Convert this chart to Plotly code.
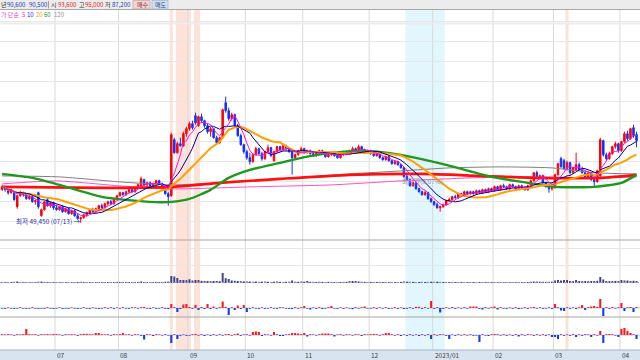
import plotly.graph_objects as go
import pandas as pd

W, H = 640, 360

# ---------------- data (prices in thousand won) ----------------
opens = [
 66.0, 67.5, 66.0, 64.5, 65.0, 57.5, 63.0, 64.5, 63.5, 61.5, 62.5, 60.0, 64.5, 53.0, 56.0, 61.0, 58.0, 59.5,
 57.0, 56.0, 57.5, 55.0, 56.5, 54.0, 55.5, 53.0, 51.5, 52.0, 53.5, 54.5, 56.0, 55.0, 56.5, 58.0, 57.0, 59.0, 60.0, 59.0, 61.5,
 63.0, 64.5, 63.5, 65.0, 66.0, 65.0, 67.0, 67.0, 71.0, 68.5, 69.5, 67.5, 69.0, 70.5, 69.0, 66.5, 64.0, 63.0, 91.0, 84.5, 89.0, 88.0, 94.0,
 96.5, 99.0, 103.0, 98.0, 102.5, 100.5, 98.0, 95.0, 96.5, 92.0, 89.5, 92.0, 109.5, 105.5, 101.5, 103.5, 98.0, 93.0, 88.5,
 85.0, 82.0, 80.0, 83.5, 86.5, 84.0, 81.5, 85.0, 87.0, 80.5, 85.0, 87.5, 86.0, 88.0, 86.5, 85.0, 82.0, 83.5, 85.5,
 86.5, 84.5, 85.5, 84.0, 83.0, 84.5, 85.5, 84.0, 82.5, 83.5, 84.5, 83.0, 82.0, 83.5, 85.0, 84.0, 85.5, 86.5, 85.0, 87.5, 86.0, 84.5,
 85.5, 84.0, 83.0, 84.5, 82.0, 81.0, 82.5, 80.5, 79.0, 80.0, 78.5, 77.0, 72.5, 71.0, 68.0, 69.5, 66.5, 65.0, 63.5, 64.5, 61.5,
 60.0, 58.5, 57.0, 57.5, 58.5, 60.5, 61.0, 62.5, 62.0, 64.0, 63.0, 65.0, 64.0, 65.0, 64.0, 65.5, 64.5, 66.0, 65.0, 66.5,
 65.5, 67.5, 66.0, 68.0, 67.5, 66.5, 68.5, 67.5, 66.5, 68.0, 67.0, 66.0, 68.0, 70.5, 74.5, 72.0, 73.0, 69.5, 67.5, 66.5,
 67.0, 73.5, 81.5, 80.5, 76.5, 79.5, 74.5, 76.0, 78.5, 76.0, 74.5, 72.0, 74.5, 71.0, 70.0, 73.0, 90.5, 83.5, 81.5, 84.0, 87.5, 89.0,
 85.5, 90.0, 94.0, 91.5, 97.0, 93.6,
]
highs = [
 68.5, 68.0, 66.5, 66.5, 65.5, 63.5, 65.5, 65.0, 64.0, 63.5, 63.5, 61.0, 65.0, 56.5, 60.5, 62.0, 60.0, 60.0,
 58.5, 58.0, 58.0, 57.0, 57.0, 56.0, 56.0, 54.0, 52.5, 54.0, 55.0, 56.5, 57.0, 57.0, 58.5, 59.0, 59.5, 60.5, 61.0, 62.0, 63.5,
 65.0, 65.0, 65.5, 66.5, 66.5, 67.5, 69.0, 72.5, 71.5, 70.0, 70.0, 69.5, 71.0, 71.0, 69.5, 67.0, 65.0, 94.5, 92.0, 90.0, 92.0, 95.0, 97.5,
 100.0, 100.5, 104.5, 103.0, 104.0, 101.0, 99.0, 97.5, 97.0, 93.0, 92.5, 106.5, 112.5, 107.0, 104.5, 104.0, 99.0, 94.0, 89.0,
 86.0, 84.5, 84.0, 87.5, 87.0, 85.0, 85.5, 88.5, 87.5, 85.5, 88.0, 88.0, 89.0, 88.5, 87.0, 85.5, 84.0, 86.0, 87.5,
 87.0, 86.0, 86.0, 84.5, 85.0, 86.0, 86.0, 84.5, 84.0, 85.0, 85.0, 83.5, 84.0, 85.5, 85.5, 86.0, 87.5, 87.0, 88.5, 88.0, 86.5, 86.0,
 86.0, 84.5, 85.0, 85.0, 82.5, 83.0, 83.0, 81.0, 80.5, 80.5, 79.0, 77.5, 74.0, 71.5, 70.0, 70.0, 67.0, 65.5, 65.5, 65.0, 62.0,
 60.5, 59.5, 58.0, 59.0, 61.0, 62.0, 63.0, 63.5, 64.5, 64.5, 65.5, 65.5, 65.5, 65.5, 66.0, 66.0, 66.5, 66.5, 67.0, 67.0,
 68.0, 68.0, 68.5, 69.0, 68.0, 69.0, 69.0, 68.0, 68.5, 68.5, 67.5, 68.5, 71.0, 74.5, 75.5, 73.5, 73.5, 70.0, 68.5, 67.5,
 74.0, 79.5, 82.5, 81.5, 80.5, 80.0, 77.5, 84.5, 79.5, 77.5, 75.0, 75.0, 75.0, 72.0, 76.0, 92.0, 91.0, 84.5, 85.0, 88.0, 90.0, 89.5,
 90.5, 95.0, 95.5, 97.0, 98.5, 95.0,
]
lows = [
 65.5, 65.0, 63.5, 64.0, 60.5, 56.5, 62.5, 62.5, 61.0, 61.0, 59.5, 58.5, 56.5, 52.5, 55.5, 57.5, 57.0, 56.0,
 55.5, 55.5, 54.5, 54.5, 53.5, 53.5, 52.5, 51.0, 49.45, 51.5, 52.5, 54.0, 54.5, 54.5, 56.0, 56.5, 56.5, 58.0, 58.5, 58.5, 61.0,
 62.5, 63.0, 63.0, 64.0, 64.5, 64.5, 66.5, 66.5, 68.0, 67.5, 67.0, 67.0, 68.5, 68.5, 66.0, 63.5, 58.0, 62.5, 84.0, 84.0, 87.5, 87.5, 92.5,
 95.5, 96.0, 98.5, 97.5, 99.5, 97.0, 94.0, 92.5, 91.5, 88.5, 89.0, 91.5, 104.5, 100.5, 100.5, 97.5, 92.5, 88.0, 84.0,
 81.0, 78.5, 79.5, 83.0, 83.5, 80.5, 81.0, 84.5, 82.5, 80.0, 84.5, 85.0, 85.5, 85.5, 84.5, 73.5, 81.0, 83.0, 85.0,
 84.0, 84.0, 83.5, 82.5, 82.5, 84.0, 83.5, 82.0, 82.0, 83.0, 82.5, 81.5, 81.5, 83.0, 83.5, 83.5, 85.0, 84.5, 84.5, 85.5, 84.0, 84.0,
 83.5, 82.5, 82.5, 81.5, 80.5, 80.5, 80.0, 78.5, 78.5, 78.0, 76.5, 72.0, 70.5, 67.5, 67.5, 66.0, 64.5, 63.0, 63.0, 61.0, 59.5,
 58.0, 56.5, 55.0, 57.0, 58.0, 60.0, 60.5, 61.5, 61.5, 62.5, 62.5, 63.5, 63.5, 63.5, 63.5, 64.0, 64.0, 64.5, 64.5, 65.0,
 65.0, 65.5, 65.5, 67.0, 66.0, 66.0, 67.0, 66.0, 66.0, 66.5, 65.5, 65.5, 67.5, 70.0, 71.5, 71.0, 69.0, 67.0, 64.5, 65.5,
 66.5, 73.0, 77.0, 76.0, 75.5, 73.5, 74.0, 75.5, 75.5, 74.0, 71.5, 71.5, 70.5, 67.5, 69.5, 72.5, 82.5, 80.5, 81.0, 83.5, 86.5, 84.5,
 85.0, 89.5, 90.5, 91.0, 92.0, 87.2,
]
closes = [
 67.5, 66.0, 64.5, 65.5, 61.0, 63.0, 64.5, 63.5, 61.5, 62.5, 60.0, 60.5, 57.5, 56.0, 60.0, 58.0, 59.5, 57.0,
 56.0, 57.5, 55.0, 56.5, 54.0, 55.5, 53.0, 51.5, 52.0, 53.5, 54.5, 56.0, 55.0, 56.5, 58.0, 57.0, 59.0, 60.0, 59.0, 61.5, 63.0,
 64.5, 63.5, 65.0, 66.0, 65.0, 67.0, 68.5, 71.5, 68.5, 69.5, 67.5, 69.0, 70.5, 69.0, 66.5, 64.0, 62.5, 93.5, 84.5, 89.0, 88.0, 94.0, 96.5,
 99.0, 97.0, 99.5, 102.5, 100.5, 98.0, 95.0, 96.5, 92.0, 89.5, 92.0, 106.0, 105.5, 101.5, 103.5, 98.0, 93.0, 88.5, 85.0,
 82.0, 80.0, 83.5, 86.5, 84.0, 81.5, 85.0, 87.0, 83.0, 85.0, 87.5, 86.0, 88.0, 86.5, 85.0, 82.0, 83.5, 85.5, 86.5,
 84.5, 85.5, 84.0, 83.0, 84.5, 85.5, 84.0, 82.5, 83.5, 84.5, 83.0, 82.0, 83.5, 85.0, 84.0, 85.5, 86.5, 85.0, 87.5, 86.0, 84.5, 85.5,
 84.0, 83.0, 84.5, 82.0, 81.0, 82.5, 80.5, 79.0, 80.0, 78.5, 77.0, 72.5, 71.0, 68.0, 69.5, 66.5, 65.0, 63.5, 64.5, 61.5, 60.0,
 58.5, 57.0, 57.5, 58.5, 60.5, 61.0, 62.5, 62.0, 64.0, 63.0, 65.0, 64.0, 65.0, 64.0, 65.5, 64.5, 66.0, 65.0, 66.5, 65.5,
 67.5, 66.0, 68.0, 67.5, 66.5, 68.5, 67.5, 66.5, 68.0, 67.0, 66.0, 68.0, 70.5, 74.5, 72.0, 73.0, 69.5, 67.5, 66.5, 67.0,
 73.5, 79.0, 77.5, 76.5, 79.5, 74.5, 77.0, 78.5, 76.0, 74.5, 72.0, 74.5, 71.0, 70.0, 75.5, 91.0, 83.5, 81.5, 84.0, 87.5, 89.0, 85.5,
 90.0, 94.0, 91.5, 96.5, 93.0, 90.6,
]

# volume (thousand shares)
volume = [
 90, 80, 100, 80, 120, 150, 90, 80, 100, 70, 90, 80, 130, 140, 110, 90, 80, 90,
 80, 70, 90, 80, 70, 80, 90, 100, 120, 90, 80, 90, 70, 80, 90, 80, 90, 100, 80, 90, 110,
 100, 80, 90, 100, 80, 90, 110, 160, 100, 90, 80, 90, 110, 90, 100, 130, 150, 700, 650, 500, 300, 300, 280,
 380, 250, 300, 300, 220, 200, 200, 180, 200, 200, 180, 1000, 480, 400, 250, 220, 200, 180, 160,
 150, 140, 130, 150, 120, 130, 140, 120, 110, 130, 150, 120, 110, 120, 130, 250, 130, 120, 140,
 130, 200, 120, 110, 100, 120, 110, 100, 120, 110, 100, 90, 100, 110, 120, 180, 200, 200, 150, 120, 110, 100,
 100, 90, 100, 110, 90, 100, 90, 100, 90, 100, 110, 150, 130, 120, 110, 100, 110, 120, 100, 110, 130,
 120, 130, 110, 100, 110, 90, 100, 90, 100, 90, 100, 90, 100, 90, 80, 90, 100, 90, 80, 90,
 90, 80, 90, 80, 90, 80, 90, 80, 90, 80, 90, 100, 120, 150, 140, 130, 120, 110, 120, 130,
 250, 300, 250, 300, 300, 200, 180, 300, 200, 180, 200, 180, 200, 190, 220, 600, 350, 200, 180, 200, 210, 190,
 300, 250, 250, 200, 220, 200,
]

# net buying indicators (thousand shares)
net_a = [
 -6, -8, 6, -6, -8, -6, 8, -6, -8, -6, 8, -6, -8, -6, -8, 8, -6, -8,
 -6, 6, -8, -6, -8, 6, -6, -8, -6, 8, -6, -8, 6, -6, -8, -6, 8, -6, 8, -8, 6,
 -6, 8, -6, -8, 8, 6, -6, 8, 10, -6, -8, 6, -8, -6, 8, -8, -10, 40, 8, -40, -10, 35, 40,
 10, -8, 30, -20, 10, -10, 40, -10, 15, -8, 8, 65, 10, -70, 8, -20, 25, -10, 30,
 -40, -8, 8, -6, -8, 6, -8, -6, 8, -6, -8, 8, 6, -6, -8, -10, 8, -6, 8,
 20, -6, -15, 6, -8, 8, -10, -6, 8, 20, -6, -8, 6, -8, 6, -6, -12, 8, -6, 8, 15, -6,
 -6, 8, -8, 6, -6, 8, -8, -6, 8, -8, 6, -10, -8, 8, -6, 12, 12, -8, 8, -6, 70,
 -8, 8, -45, -8, 8, -6, 10, -8, 6, -6, 8, -6, 15, 15, 15, -8, -15, 8, -6, 8,
 15, -15, 8, -6, -8, 6, -8, 8, -10, -6, 8, -8, 6, 10, -6, 8, -8, -6, 8, -8,
 40, 8, -25, -30, 8, -8, 6, -10, 8, 30, -20, 8, 15, 20, 10, 90, -80, 8, -8, 10, -6, 8,
 50, -30, 8, 10, -40, 10,
]
net_b = [
 8, 6, 8, 6, -6, 8, 6, 8, 60, 8, 6, 8, -6, 8, 6, 8, 6, 10,
 8, 6, -6, 8, 6, 8, 6, -8, 8, 12, 12, 8, 6, 20, 20, 8, 6, 8, -6, 8, 6,
 8, 20, 6, 8, -6, 8, 6, -8, -45, 8, 6, -10, 8, 6, -6, 8, -6, -80, 8, -40, -8, 6, -8,
 -6, 8, 10, -6, 8, -10, 6, -8, 8, -6, 8, -6, 8, 10, -6, 8, 15, -8, 6,
 8, -6, 30, 35, 30, -10, 8, 6, -6, 30, 8, -10, -10, 6, 8, 20, 20, 15, 8,
 20, -15, 8, 6, -6, 8, 15, 15, 15, 8, -15, 6, 8, -6, 8, 6, -6, 8, 6, -10, 8, 6,
 8, 10, 8, -6, 8, 20, 20, 8, -6, 8, -10, 6, -8, 8, -6, 6, -10, 8, -6, 8, -40,
 8, -6, 8, 6, -8, -40, 6, -8, 8, -6, 8, -6, 8, -8, -6, -70, 8, -6, -10, 8,
 10, 8, -6, 8, -8, 6, -8, 8, -15, 8, -6, 8, 6, -8, 8, -6, 8, -8, 6, -20,
 -20, -40, 8, -8, 6, -8, 8, -20, 6, -8, 8, 6, -20, 8, -6, 40, -80, 8, 10, 8, -6, -20,
 60, 70, 40, 20, 8, -40,
]

# long moving averages (index, thousand won)
ma60_idx = [0, 10, 19, 33, 49, 56, 62, 69, 75, 82, 92, 99, 109, 119, 125, 132, 147, 162, 172, 183, 196, 205, 210]
ma60_val = [73.9, 71.9, 68.4, 62.4, 59.9, 59.9, 61.4, 65.9, 71.9, 75.9, 79.4, 81.9, 84.4, 85.4, 84.9, 83.4, 78.4, 72.4, 69.9, 67.4, 67.4, 69.4, 73.4]
ma120_idx = [0, 19, 39, 56, 72, 92, 115, 132, 148, 165, 182, 197, 210]
ma120_val = [72.9, 72.4, 69.9, 68.4, 69.4, 71.4, 73.9, 75.4, 76.9, 77.4, 76.9, 74.4, 73.9]
maR_idx = [0, 33, 56, 72, 92, 115, 139, 158, 178, 198, 210]
maR_val = [67.4, 66.9, 67.4, 69.4, 71.4, 73.4, 73.9, 72.9, 71.9, 71.9, 73.4]
maP_idx = [0, 18, 39, 56, 82, 109, 132, 155, 172, 198, 210]
maP_val = [68.9, 70.4, 67.9, 66.4, 67.4, 68.4, 70.4, 71.9, 72.4, 71.9, 72.4]

month_start = [18, 39, 62, 81, 100, 122, 143, 163, 183, 205]
month_text = ["07", "08", "09", "10", "11", "12", "2023/01", "02", "03", "04"]

red_bands = [(56, 56), (58, 62), (64, 65), (187, 187)]
blue_bands = [(134, 146)]

low_idx, low_val, low_text = 26, 49.45, "최저 49,450 (07/13) →"

# ---------------- figure ----------------
def py(p):
    return 1 - p / H

N = len(closes)
x = list(range(N))
s = pd.Series(closes)
ma5 = s.rolling(5, min_periods=1).mean()
ma10 = s.rolling(10, min_periods=1).mean()
ma20 = s.rolling(20, min_periods=1).mean()

fig = go.Figure()
sk = dict(mode="lines", hoverinfo="skip", showlegend=False, xaxis="x", yaxis="y")
fig.add_trace(go.Scatter(x=ma120_idx, y=ma120_val, line=dict(color="#7f7f7f", width=1, shape="spline", smoothing=0.6), **sk))
fig.add_trace(go.Scatter(x=maP_idx, y=maP_val, line=dict(color="#ff4fc8", width=1, shape="spline", smoothing=0.6), **sk))
fig.add_trace(go.Scatter(x=maR_idx, y=maR_val, line=dict(color="#ff1010", width=2.6, shape="spline", smoothing=0.6), **sk))
fig.add_trace(go.Scatter(x=ma60_idx, y=ma60_val, line=dict(color="#1c9a1c", width=2.4, shape="spline", smoothing=0.6), **sk))
fig.add_trace(go.Candlestick(
    x=x, open=opens, high=highs, low=lows, close=closes,
    increasing=dict(line=dict(color="#ff0000", width=1), fillcolor="#ff0000"),
    decreasing=dict(line=dict(color="#1030ff", width=1), fillcolor="#1030ff"),
    whiskerwidth=0, hoverinfo="skip", showlegend=False, xaxis="x", yaxis="y"))
fig.add_trace(go.Scatter(x=x, y=ma20, line=dict(color="#ffa000", width=2), **sk))
fig.add_trace(go.Scatter(x=x, y=ma10, line=dict(color="#000090", width=1), **sk))
fig.add_trace(go.Scatter(x=x, y=ma5, line=dict(color="#ff10d0", width=1), **sk))

fig.add_trace(go.Bar(x=x, y=volume, marker=dict(color="#40408c", line=dict(width=0)), width=0.65,
                     hoverinfo="skip", showlegend=False, xaxis="x", yaxis="y2"))
fig.add_trace(go.Bar(x=x, y=net_a, marker=dict(color=["#ff1a1a" if v > 0 else "#1040e0" for v in net_a], line=dict(width=0)),
                     width=0.7, hoverinfo="skip", showlegend=False, xaxis="x", yaxis="y3"))
fig.add_trace(go.Bar(x=x, y=net_b, marker=dict(color=["#ff1a1a" if v > 0 else "#1040e0" for v in net_b], line=dict(width=0)),
                     width=0.7, hoverinfo="skip", showlegend=False, xaxis="x", yaxis="y4"))

shapes = []
for a, b in red_bands:
    shapes.append(dict(type="rect", xref="x", yref="paper", x0=a - 0.5, x1=b + 0.5, y0=py(350), y1=py(10),
                       fillcolor="#fde2d8", line=dict(width=0), layer="below"))
for a, b in blue_bands:
    shapes.append(dict(type="rect", xref="x", yref="paper", x0=a - 0.5, x1=b + 0.5, y0=py(350), y1=py(10),
                       fillcolor="#e2f6fd", line=dict(width=0), layer="below"))
for m in month_start:
    shapes.append(dict(type="line", xref="x", yref="paper", x0=m - 0.5, x1=m - 0.5, y0=py(350), y1=py(10),
                       line=dict(color="#d9d9d9", width=1), layer="below"))
shapes.append(dict(type="line", xref="paper", yref="paper", x0=0, x1=1, y0=py(23.5), y1=py(23.5), line=dict(color="#ececec", width=2), layer="below"))
shapes.append(dict(type="line", xref="paper", yref="paper", x0=0, x1=1, y0=py(240), y1=py(240), line=dict(color="#a6a6a6", width=1.2)))
shapes.append(dict(type="line", xref="paper", yref="paper", x0=0, x1=1, y0=py(317), y1=py(317), line=dict(color="#a6a6a6", width=1.2)))
shapes.append(dict(type="line", xref="paper", yref="paper", x0=0, x1=1, y0=py(282.6), y1=py(282.6), line=dict(color="#9a9ab8", width=1, dash="dot")))
shapes.append(dict(type="line", xref="paper", yref="paper", x0=0, x1=1, y0=py(308), y1=py(308), line=dict(color="#b8c8f0", width=1), layer="below"))
shapes.append(dict(type="line", xref="paper", yref="paper", x0=0, x1=1, y0=py(335), y1=py(335), line=dict(color="#b8c8f0", width=1), layer="below"))
shapes.append(dict(type="rect", xref="paper", yref="paper", x0=0, x1=1, y0=0, y1=py(350),
                   fillcolor="#d9e4f1", line=dict(width=0)))
shapes.append(dict(type="line", xref="paper", yref="paper", x0=0, x1=1, y0=py(350), y1=py(350), line=dict(color="#a9b4c4", width=1)))
shapes.append(dict(type="rect", xref="paper", yref="paper", x0=0, x1=1, y0=py(9.5), y1=1,
                   fillcolor="#ececec", line=dict(width=0)))
shapes.append(dict(type="line", xref="paper", yref="paper", x0=0, x1=1, y0=py(9.5), y1=py(9.5), line=dict(color="#a8a8a8", width=1)))
shapes.append(dict(type="line", xref="paper", yref="paper", x0=48.5 / W, x1=48.5 / W, y0=py(8.5), y1=py(1), line=dict(color="#a0a0a0", width=1)))
shapes.append(dict(type="rect", xref="paper", yref="paper", x0=133 / W, x1=150 / W, y0=py(9), y1=py(0.5),
                   fillcolor="#f6d2cf", line=dict(color="#b0a0a0", width=0.6)))
shapes.append(dict(type="rect", xref="paper", yref="paper", x0=152 / W, x1=168 / W, y0=py(9), y1=py(0.5),
                   fillcolor="#cfe0f6", line=dict(color="#a0a8b8", width=0.6)))

F = "Noto Sans CJK KR, sans-serif"
ann = []
for m, t in zip(month_start, month_text):
    ann.append(dict(x=m - 0.5, y=py(355.3), xref="x", yref="paper", text=t, showarrow=False, borderpad=0,
                    xanchor="left", yanchor="middle", xshift=1, font=dict(family=F, size=6.5, color="#404040")))
ann.append(dict(x=-0.5 - 1.6, y=py(355.3), xref="x", yref="paper", text="06", showarrow=False, borderpad=0,
                xanchor="left", yanchor="middle", font=dict(family=F, size=6.5, color="#404040")))
ann.append(dict(x=low_idx, y=low_val, xref="x", yref="y", text=low_text, showarrow=False, xanchor="right", borderpad=0,
                yanchor="middle", xshift=1, yshift=2, font=dict(family=F, size=6.5, color="#2b2bb0")))
ann.append(dict(x=139, y=70.3, xref="x", yref="y", text="최저가(0.07%)", showarrow=False, xanchor="center", borderpad=0,
                yanchor="middle", font=dict(family=F, size=6.5, color="#9090a8")))

toolbar = [(0, "년", "#303030"), (6, "90,600", "#2040c0"), (28, "90,500", "#2040c0"), (50, "시", "#303030"),
           (57, "93,600", "#e02020"), (77.5, "고", "#303030"), (84, "95,000", "#e02020"), (104, "저", "#303030"),
           (111, "87,200", "#2040c0"), (135.5, "매수", "#803030"), (154, "매도", "#304080")]
for px_, t, c in toolbar:
    ann.append(dict(x=px_ / W, y=py(4.8), xref="paper", yref="paper", text=t, showarrow=False, xanchor="left",
                    yanchor="middle", borderpad=0, font=dict(family=F, size=6, color=c)))
legend_row = [(0, "가 단순", "#d040d0"), (21, "5", "#ff20d0"), (26, "10", "#2020ff"), (34.5, "20", "#ffa000"),
              (43, "60", "#20a020"), (53, "120", "#909090")]
for px_, t, c in legend_row:
    ann.append(dict(x=px_ / W, y=py(14.5), xref="paper", yref="paper", text=t, showarrow=False, xanchor="left",
                    yanchor="middle", borderpad=0, font=dict(family=F, size=6, color=c)))

axis_off = dict(showticklabels=False, zeroline=False, ticks="", showline=False, fixedrange=True)
fig.update_layout(
    width=W, height=H, margin=dict(l=0, r=0, t=0, b=0, autoexpand=False),
    paper_bgcolor="white", plot_bgcolor="white", showlegend=False, barmode="overlay",
    xaxis=dict(range=[-0.705, 211.15], showgrid=False, rangeslider=dict(visible=False), anchor="y", **axis_off),
    yaxis=dict(domain=[py(240), py(10)], range=[40.85, 155.85], showgrid=True, gridcolor="#e6e6e6",
               gridwidth=1, dtick=10, tick0=0, **axis_off),
    yaxis2=dict(domain=[py(283), py(240)], range=[0, 4300], showgrid=True, gridcolor="#e6e6e6",
                tickvals=[1800, 3500], anchor="x", **axis_off),
    yaxis3=dict(domain=[py(317), py(283)], range=[-90, 250], showgrid=False, anchor="x", **axis_off),
    yaxis4=dict(domain=[py(350), py(317)], range=[-150, 180], showgrid=False, anchor="x", **axis_off),
    shapes=shapes, annotations=ann,
)
fig.write_html("out.html", config={"displayModeBar": False, "staticPlot": True},
               post_script="document.body.style.margin='0';document.body.style.overflow='hidden';")
